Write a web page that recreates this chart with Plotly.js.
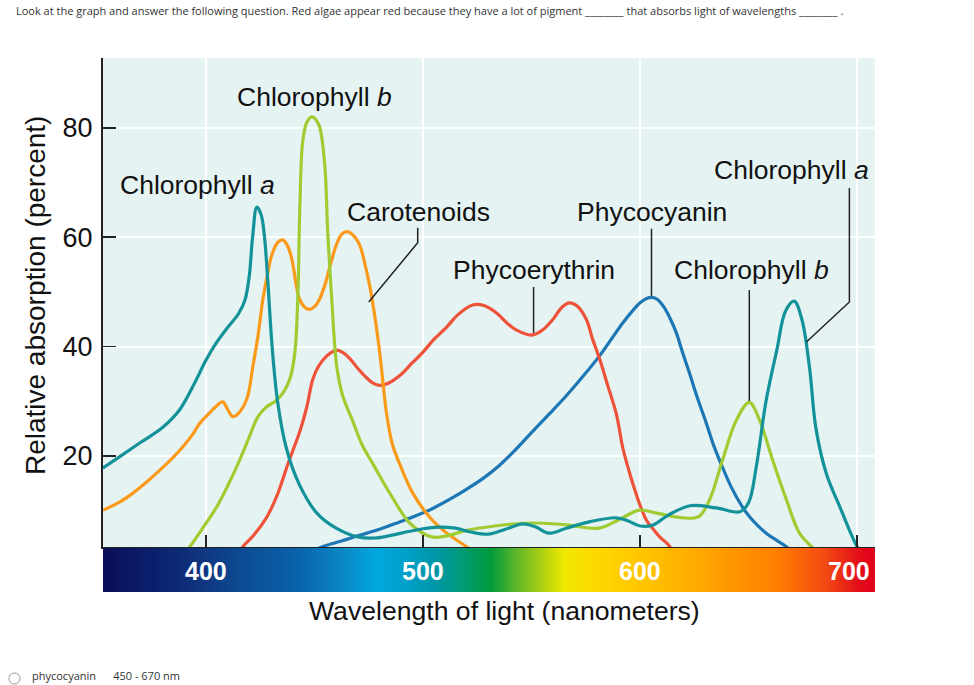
<!DOCTYPE html>
<html>
<head>
<meta charset="utf-8">
<script src="https://cdn.plot.ly/plotly-3.0.1.min.js"></script>
<style>html,body{margin:0;padding:0;background:#fff;}#chart{width:974px;height:685px;}</style>
</head>
<body>
<div id="chart"></div>
<script>
// ---- Data ----
const chlA_x = [352.6,360,370,380,388,395,400,405,410,415,418,420,421.5,423.5,425.5,427,428.5,430.5,433,437,443,451,460,470,478,490,500,507,515,522,530,538,546,552,558,566,577,589,594,600,606,613,623,635,646,650,653.5,658,663,667,671,674.5,678,681,686,692,700,702];
const chlA_y = [17.8,19.8,22.5,25.2,28.5,33.5,37.5,40.8,43.5,46.0,48.5,53,60,65.5,64,60,52,40,30,21.5,14.8,9.6,6.8,5.2,5.0,5.9,6.7,7.0,6.8,6.1,5.7,6.6,7.6,7.0,5.9,6.8,8.0,8.7,8.2,7.2,7.4,9.2,10.9,10.5,9.8,11.5,18,30,39.4,46.5,48.3,45,36.3,25,16.5,10.7,3.4,2.5];

const chlB_x = [390,392.6,398,405,410,415.6,420,424,428,432,436,439,441,442.3,443.3,444.6,446.5,448.8,451,452.5,454.8,456.1,458,460.3,463,467.5,472,477,485,494,504,511,520,533,546,556,566,581,590,599.7,608,619.5,627,632,638,644.4,650.3,655,661,667.4,673.4,679,682];
const chlB_y = [2,3.4,6.5,10.7,14.5,19.3,23.5,27.2,29.0,30.0,31.8,34.5,39,48.5,66,77.5,81,82,81.3,80,73,61,48.5,36.3,31,26.5,22,18.5,13,7.7,5.2,5.4,6.4,7.2,7.7,7.7,7.4,6.8,8.3,10.1,9.5,8.7,8.9,12,19.3,26.6,29.8,26.6,19.3,12.0,5.9,3.4,2];

const carot_x = [352.6,360,366.4,372,378.8,385,389.4,394,397.2,402,405,407.8,410,412.4,415,418.9,421.6,424,426.2,428.5,430.4,433,435.4,437.5,439.6,441.5,443,445.5,447.8,450,452.5,455,457.1,460,462.5,464.9,468,470.9,473,475.5,478,480.1,483.3,486,489.3,495.3,503.1,510.9,520.1,523];
const carot_y = [10.1,11.5,13.2,15,17.4,19.8,21.7,24,26.0,28,29.2,29.9,28.5,27.2,27.8,30.5,36.3,42,48.5,53.5,56.8,59,59.5,58.5,56.0,51.5,48.8,47.2,46.8,47.3,48.8,51.5,54.6,58.5,60.5,61.0,60.3,58.5,55.5,51.0,45,38.8,27.5,22,18.5,13.2,8.8,5.9,3.4,2.5];

const phycoE_x = [415,417,422,428,433,437.3,441,443.3,446.5,449.2,452,455.7,459,460.8,463.5,466.3,470,474,477,480,484,489.3,495,500,505,511,516,522.9,528,534,539,543.1,550,555,559.7,564,567.5,571,575.3,578,581.3,585,589.1,592,594.8,597,599.7,603,605.7,609,612.2,615];
const phycoE_y = [2,3.4,5.5,8.8,13,18.0,22,24.5,29.0,34.0,36.5,38.3,39.2,39.3,38.8,37.8,36.0,34.3,33.3,32.9,33.3,34.7,37,39,41.3,43.6,45.8,47.6,47.5,46.1,44.2,43.0,42.1,43.0,44.9,47.2,48.0,47.4,44.9,41.5,37.8,33,27.6,21.5,17.4,14.5,11.3,8.2,6.8,5.2,4.1,2.7];

const phycoC_x = [451,455,462,470,480,489,497,504.5,512,520,528,535.3,543,550.5,558,566,574,581.3,587,592,596,600,603,605.5,608,611,614,616.7,619.5,622.7,626.5,630.5,634,637.9,642,647.1,651,654.9,659,662.8,667.4,670];
const phycoC_y = [3.0,3.6,4.4,5.4,6.6,7.9,9.1,10.4,12.0,13.9,16.0,18.3,21.3,24.5,27.6,31,34.7,38.3,41.5,44.3,46.3,48.0,48.8,49.0,48.6,47.2,45.0,42.5,39,35.2,30.5,26.0,21.8,18.0,14.3,10.7,8.6,7.0,5.6,4.6,3.4,2.5];

const xTickVals = [400,500,600,700];
const xTickText = ['400','500','600','700'];
const yTickVals = [20,40,60,80];
const yTickText = ['20','40','60','80'];

// spectrum bar colour stops (wavelength, colour)
const spectrumNm = [352.6,375,397,420,443,465,478,492,505,515,531,547,565,581,604,639,662,685,700,708.2];
const spectrumColors = ['#0b0f58','#0b1f6c','#10347f','#0b4f96','#0a64ab','#0b8cca','#00a8de','#00a0c8','#0096a8','#009a82','#009a3c','#7cc022','#f0e800','#ffd600','#ffc200','#ff9a00','#ff8000','#f24a12','#e4101a','#e0001a'];

// ---- Build ----
const FONT = 'Liberation Sans, Arial, Helvetica, sans-serif';
const colors = {chlA:'#13929a', chlB:'#a0cc32', carot:'#fb9a1a', phycoE:'#ee5238', phycoC:'#1c77b4'};

function line(x, y, c, name){
  return {x:x, y:y, type:'scatter', mode:'lines', name:name,
          line:{color:c, width:3.2, shape:'spline', smoothing:1.0},
          hoverinfo:'skip', xaxis:'x', yaxis:'y'};
}

const zMin = spectrumNm[0], zMax = spectrumNm[spectrumNm.length-1];
const colorscale = spectrumNm.map((w,i)=>[(w-zMin)/(zMax-zMin), spectrumColors[i]]);

const traces = [
  {type:'heatmap', x:spectrumNm, y:[0,1], z:[spectrumNm, spectrumNm], zmin:zMin, zmax:zMax,
   colorscale:colorscale, showscale:false, zsmooth:'best', hoverinfo:'skip', xaxis:'x', yaxis:'y2'},
  line(phycoC_x, phycoC_y, colors.phycoC, 'Phycocyanin'),
  line(phycoE_x, phycoE_y, colors.phycoE, 'Phycoerythrin'),
  line(carot_x, carot_y, colors.carot, 'Carotenoids'),
  line(chlB_x, chlB_y, colors.chlB, 'Chlorophyll b'),
  line(chlA_x, chlA_y, colors.chlA, 'Chlorophyll a')
];

function lbl(x, y, text){
  return {x:x, y:y, xref:'x', yref:'y', text:text, showarrow:false,
          xanchor:'center', yanchor:'middle', font:{family:FONT, size:26.5, color:'#111'}};
}

const annotations = [
  lbl(449.9, 85.6, 'Chlorophyll <i>b</i>'),
  lbl(395.9, 69.5, 'Chlorophyll <i>a</i>'),
  lbl(497.8, 64.6, 'Carotenoids'),
  lbl(605.7, 64.6, 'Phycocyanin'),
  lbl(550.9, 54.0, 'Phycoerythrin'),
  lbl(669.7, 72.3, 'Chlorophyll <i>a</i>'),
  lbl(651.5, 54.0, 'Chlorophyll <i>b</i>'),
  {xref:'paper', yref:'paper', x:-0.0881, y:0.556, text:'Relative absorption (percent)', textangle:-90,
   showarrow:false, xanchor:'center', yanchor:'middle', font:{family:FONT, size:28, color:'#111'}},
  {xref:'paper', yref:'paper', x:0.5207, y:-0.0356, text:'Wavelength of light (nanometers)',
   showarrow:false, xanchor:'center', yanchor:'middle', font:{family:FONT, size:26.6, color:'#111'}},
  {xref:'paper', yref:'paper', x:-0.1153, y:1.0898, text:'Look at the graph and answer the following question. Red algae appear red because they have a lot of pigment ________ that absorbs light of wavelengths ________ .',
   showarrow:false, xanchor:'left', yanchor:'middle', font:{family:'Open Sans, sans-serif', size:11, color:'#333'}},
  {xref:'paper', yref:'paper', x:-0.0946, y:-0.1740, text:'phycocyanin      450 - 670 nm',
   showarrow:false, xanchor:'left', yanchor:'bottom', font:{family:'Open Sans, sans-serif', size:11, color:'#333'}}
].concat(xTickVals.map((v,i)=>({x:v, y:0.0393, xref:'x', yref:'paper', text:'<b>'+xTickText[i]+'</b>',
   xshift:(i===xTickVals.length-1 ? -8 : 0),
   showarrow:false, xanchor:'center', yanchor:'middle', font:{family:FONT, size:25, color:'#ffffff'}})));

const L = {color:'#222', width:1.5};
const shapes = [
  {type:'path', xref:'x', yref:'y', path:'M497.56,61.72 L497.56,58.98 L475.01,48.15', line:L},
  {type:'line', xref:'x', yref:'y', x0:550.94, y0:50.9, x1:550.94, y1:42.5, line:L},
  {type:'line', xref:'x', yref:'y', x0:605.25, y0:61.54, x1:605.25, y1:49.29, line:L},
  {type:'line', xref:'x', yref:'y', x0:650.3, y0:50.35, x1:650.3, y1:30.05, line:L},
  {type:'path', xref:'x', yref:'y', path:'M696.4,69.0 L696.4,48.15 L676.6,40.84', line:L},
  {type:'circle', xref:'paper', yref:'paper', x0:-0.1218, x1:-0.1075, y0:-0.1517, y1:-0.1723, line:{color:'#999', width:1}}
];

const layout = {
  width:974, height:685,
  margin:{l:103, r:99, t:58, b:93, pad:0},
  paper_bgcolor:'#ffffff', plot_bgcolor:'#e5f3f3',
  showlegend:false,
  xaxis:{range:[352.6,708.2], anchor:'y', tickvals:xTickVals, showticklabels:false,
         ticks:'inside', ticklen:12, tickwidth:1.5, tickcolor:'#222',
         showline:true, linecolor:'#222', linewidth:2,
         showgrid:true, gridcolor:'#ffffff', gridwidth:2, zeroline:false, fixedrange:true},
  yaxis:{domain:[0.0843,1], range:[3.36,92.76], tickvals:yTickVals, ticktext:yTickText,
         ticks:'inside', ticklen:13, tickwidth:1.5, tickcolor:'#222',
         showline:true, linecolor:'#222', linewidth:2,
         showgrid:true, gridcolor:'#ffffff', gridwidth:2, zeroline:false,
         ticklabelstandoff:3,
         tickfont:{family:FONT, size:27, color:'#111'}, fixedrange:true},
  yaxis2:{domain:[0,0.0824], range:[0,1], visible:false, fixedrange:true},
  annotations:annotations,
  shapes:shapes
};

Plotly.newPlot('chart', traces, layout, {displayModeBar:false, staticPlot:true});
</script>
</body>
</html>
